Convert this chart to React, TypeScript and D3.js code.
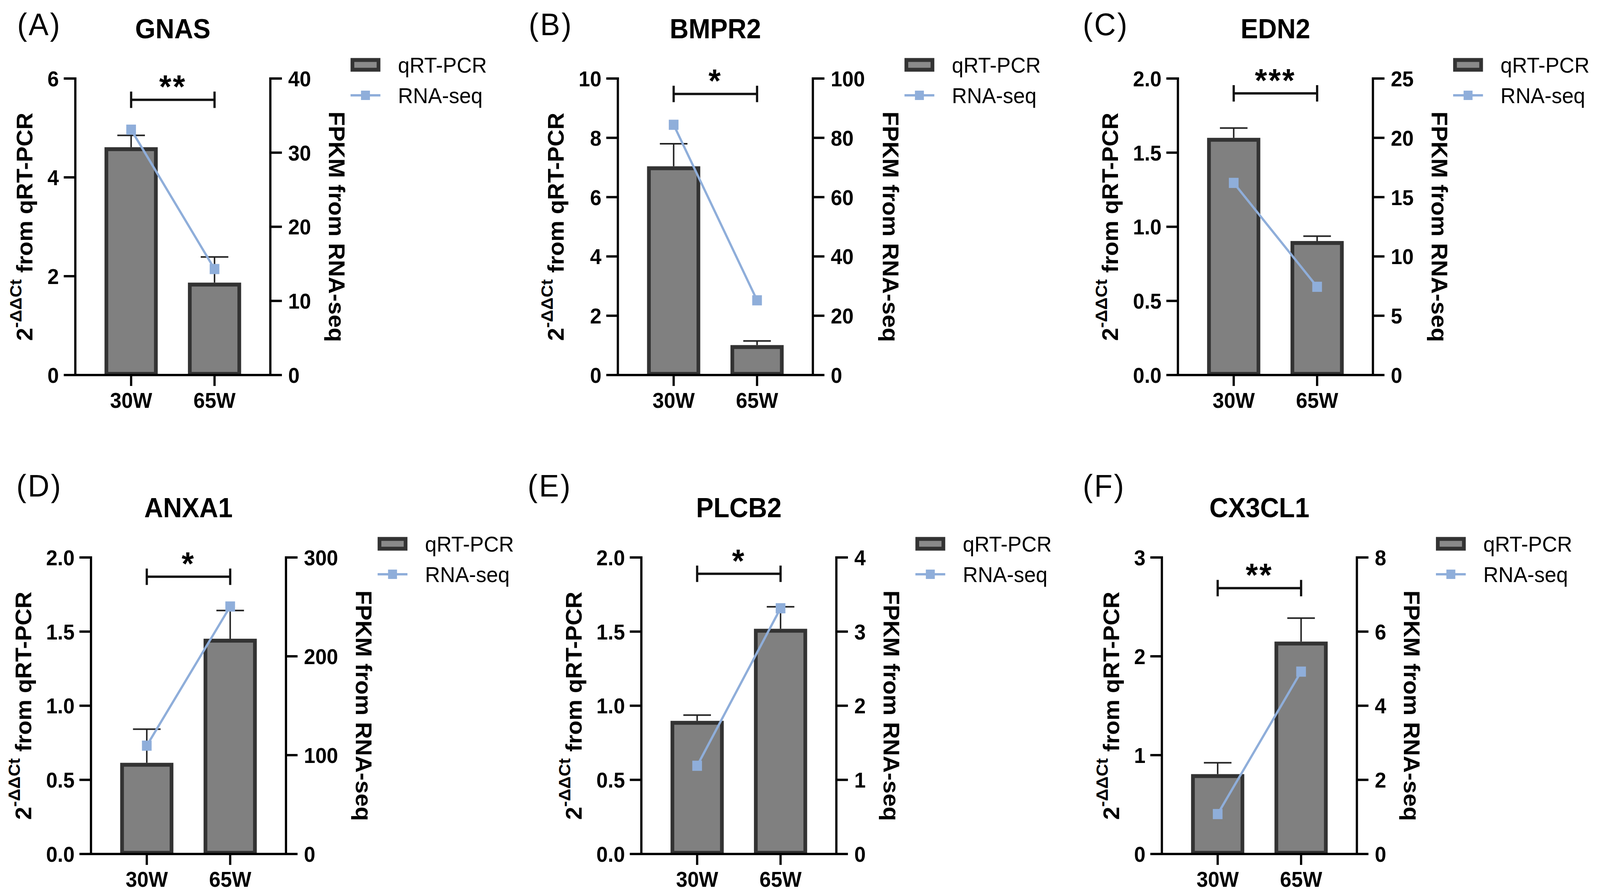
import React from 'react';
import * as d3 from 'd3';

// ---------- data ----------
const panelLetters = ['(A)', '(B)', '(C)', '(D)', '(E)', '(F)'];
const genes = ['GNAS', 'BMPR2', 'EDN2', 'ANXA1', 'PLCB2', 'CX3CL1'];
const groups = ['30W', '65W'];
const qpcrMean = [
  [4.61, 1.87],
  [7.04, 1.01],
  [1.6, 0.904],
  [0.615, 1.452],
  [0.898, 1.519],
  [0.808, 2.149],
];
const qpcrErr = [
  [0.24, 0.52],
  [0.76, 0.14],
  [0.066, 0.033],
  [0.227, 0.19],
  [0.039, 0.148],
  [0.115, 0.237],
];
const fpkm = [
  [33.1, 14.3],
  [84.4, 25.2],
  [16.2, 7.44],
  [109.6, 250.4],
  [1.19, 3.315],
  [1.077, 4.92],
];
const leftTicks = [
  [0, 2, 4, 6],
  [0, 2, 4, 6, 8, 10],
  [0, 0.5, 1, 1.5, 2],
  [0, 0.5, 1, 1.5, 2],
  [0, 0.5, 1, 1.5, 2],
  [0, 1, 2, 3],
];
const leftDecimals = [0, 0, 1, 1, 1, 0];
const rightTicks = [
  [0, 10, 20, 30, 40],
  [0, 20, 40, 60, 80, 100],
  [0, 5, 10, 15, 20, 25],
  [0, 100, 200, 300],
  [0, 1, 2, 3, 4],
  [0, 2, 4, 6, 8],
];
const sigLabels = ['**', '*', '***', '*', '*', '**'];
const sigLevel = [5.57, 9.48, 1.9, 1.87, 1.89, 2.69];
const legendLabels = ['qRT-PCR', 'RNA-seq'];
const leftTitleBase = '2';
const leftTitleSup = '-ΔΔCt';
const leftTitleRest = ' from qRT-PCR';
const rightTitle = 'FPKM from RNA-seq';

// ---------- layout ----------
const W = 4291;
const H = 2291;
const FONT = '"Liberation Sans", Arial, sans-serif';
const axisX = [202, 1657, 3159, 244, 1720, 3116];
const letterX = [46, 1418, 2904, 44, 1415, 2904];
const rowTop = [201, 1427];
const letterBase = [90, 1271];
const PW = 523;
const PH = 759;
const TICK_FS = 55;
const TITLE_FS = 60;
const BAR_FILL = '#808080';
const BAR_STROKE = '#333333';
const LINE_COLOR = '#8FAEDA';

const textW = (s: string, fs: number) =>
  s.split('').reduce((a, c) => a + (c === '.' ? 0.278 : 0.556), 0) * fs;

function Panel({ i }: { i: number }) {
  const row = i < 3 ? 0 : 1;
  const x0 = axisX[i];
  const y0 = rowTop[row];
  const yb = y0 + PH;
  const lt = leftTicks[i];
  const rt = rightTicks[i];
  const yL = d3.scaleLinear().domain([0, lt[lt.length - 1]]).range([yb, y0]);
  const yR = d3.scaleLinear().domain([0, rt[rt.length - 1]]).range([yb, y0]);
  const xB = d3
    .scaleBand<string>()
    .domain(groups)
    .range([x0, x0 + PW])
    .paddingInner(0.362)
    .paddingOuter(0.35);
  const bw = xB.bandwidth();
  const cx = (g: string) => (xB(g) as number) + bw / 2;
  const fmtL = d3.format(`.${leftDecimals[i]}f`);
  const fmtR = d3.format('d');
  const xr = x0 + PW;

  const leftLabelW = Math.max(...lt.map((t) => textW(fmtL(t), TICK_FS)));
  const rightLabelW = Math.max(...rt.map((t) => textW(fmtR(t), TICK_FS)));
  const leftTitleX = x0 - 44 - leftLabelW - 40;
  const rightTitleX = xr + 48 + rightLabelW + 48;
  const cy = (y0 + yb) / 2;
  const legendX = Math.max(xr + 212, rightTitleX + 44 + 14);
  const legendY = y0 - 35;

  const linePts: [number, number][] = groups.map((g, k) => [cx(g), yR(fpkm[i][k])]);
  const line = d3.line();
  const sy = yL(sigLevel[i]);
  const s1 = cx(groups[0]);
  const s2 = cx(groups[1]);

  return (
    <g>
      <text x={letterX[i]} y={letterBase[row]} fontSize={80} fontFamily={FONT} letterSpacing={4}>
        {panelLetters[i]}
      </text>
      <text
        x={(x0 + xr) / 2}
        y={y0 - 103}
        fontSize={70}
        fontWeight="bold"
        fontFamily={FONT}
        textAnchor="middle"
      >
        {genes[i]}
      </text>

      {groups.map((g, k) => {
        const top = yL(qpcrMean[i][k]);
        return (
          <rect
            key={g}
            x={(xB(g) as number) + 5}
            y={top + 5}
            width={bw - 10}
            height={yb - top - 8}
            fill={BAR_FILL}
            stroke={BAR_STROKE}
            strokeWidth={10}
          />
        );
      })}

      {groups.map((g, k) => {
        const top = yL(qpcrMean[i][k]);
        const et = yL(qpcrMean[i][k] + qpcrErr[i][k]);
        const c = cx(g);
        return (
          <g key={g} stroke="#222" strokeWidth={4}>
            <line x1={c} x2={c} y1={top} y2={et} />
            <line x1={c - 37} x2={c + 37} y1={et} y2={et} />
          </g>
        );
      })}

      <path d={line(linePts) as string} fill="none" stroke={LINE_COLOR} strokeWidth={6} />
      {linePts.map(([px, py], k) => (
        <rect key={k} x={px - 13} y={py - 13} width={26} height={26} fill={LINE_COLOR} />
      ))}

      <g stroke="#000" strokeWidth={6} strokeLinecap="butt">
        <line x1={x0} x2={x0} y1={y0 - 3} y2={yb + 3} />
        <line x1={xr} x2={xr} y1={y0 - 3} y2={yb + 3} />
        <line x1={x0} x2={xr} y1={yb} y2={yb} />
        {lt.map((t) => (
          <line key={'l' + t} x1={x0 - 31} x2={x0} y1={yL(t)} y2={yL(t)} />
        ))}
        {rt.map((t) => (
          <line key={'r' + t} x1={xr} x2={xr + 31} y1={yR(t)} y2={yR(t)} />
        ))}
        {groups.map((g) => (
          <line key={g} x1={cx(g)} x2={cx(g)} y1={yb} y2={yb + 28} />
        ))}
      </g>
      {lt.map((t) => (
        <text
          key={'lt' + t}
          x={x0 - 44}
          y={yL(t) + 20}
          fontSize={TICK_FS}
          fontWeight="bold"
          fontFamily={FONT}
          textAnchor="end"
        >
          {fmtL(t)}
        </text>
      ))}
      {rt.map((t) => (
        <text
          key={'rt' + t}
          x={xr + 48}
          y={yR(t) + 20}
          fontSize={TICK_FS}
          fontWeight="bold"
          fontFamily={FONT}
        >
          {fmtR(t)}
        </text>
      ))}
      {groups.map((g) => (
        <text
          key={'x' + g}
          x={cx(g)}
          y={yb + 84}
          fontSize={TICK_FS}
          fontWeight="bold"
          fontFamily={FONT}
          textAnchor="middle"
        >
          {g}
        </text>
      ))}

      <text
        transform={`translate(${leftTitleX},${cy}) rotate(-90)`}
        fontSize={TITLE_FS}
        fontWeight="bold"
        fontFamily={FONT}
        textAnchor="middle"
      >
        <tspan>{leftTitleBase}</tspan>
        <tspan fontSize={44} dy={-30}>
          {leftTitleSup}
        </tspan>
        <tspan dy={30}>{leftTitleRest}</tspan>
      </text>
      <text
        transform={`translate(${rightTitleX},${cy}) rotate(90)`}
        fontSize={TITLE_FS}
        fontWeight="bold"
        fontFamily={FONT}
        textAnchor="middle"
      >
        {rightTitle}
      </text>

      <g stroke="#111" strokeWidth={6}>
        <line x1={s1} x2={s2} y1={sy} y2={sy} />
        <line x1={s1} x2={s1} y1={sy - 21} y2={sy + 21} />
        <line x1={s2} x2={s2} y1={sy - 21} y2={sy + 21} />
      </g>
      <text
        x={(s1 + s2) / 2}
        y={sy - 4}
        fontSize={84}
        fontWeight="bold"
        fontFamily={FONT}
        textAnchor="middle"
        letterSpacing={4}
      >
        {sigLabels[i]}
      </text>

      <rect
        x={legendX + 5}
        y={legendY - 12.5}
        width={70}
        height={25}
        fill="#8a8a8a"
        stroke={BAR_STROKE}
        strokeWidth={10}
      />
      <line
        x1={legendX}
        x2={legendX + 80}
        y1={legendY + 78}
        y2={legendY + 78}
        stroke={LINE_COLOR}
        strokeWidth={6}
      />
      <rect x={legendX + 28} y={legendY + 66} width={24} height={24} fill={LINE_COLOR} />
      {legendLabels.map((l, k) => (
        <text
          key={l}
          x={legendX + 127}
          y={legendY + 20 + k * 78}
          fontSize={56}
          fontFamily={FONT}
        >
          {l}
        </text>
      ))}
    </g>
  );
}

export default function App() {
  return (
    <svg
      viewBox={`0 0 ${W} ${H}`}
      preserveAspectRatio="none"
      style={{
        position: 'fixed',
        left: 0,
        top: 0,
        width: '100vw',
        height: '100vh',
        background: '#fff',
        display: 'block',
      }}
    >
      <rect x={0} y={0} width={W} height={H} fill="#fff" />
      {genes.map((_, i) => (
        <Panel key={i} i={i} />
      ))}
    </svg>
  );
}
